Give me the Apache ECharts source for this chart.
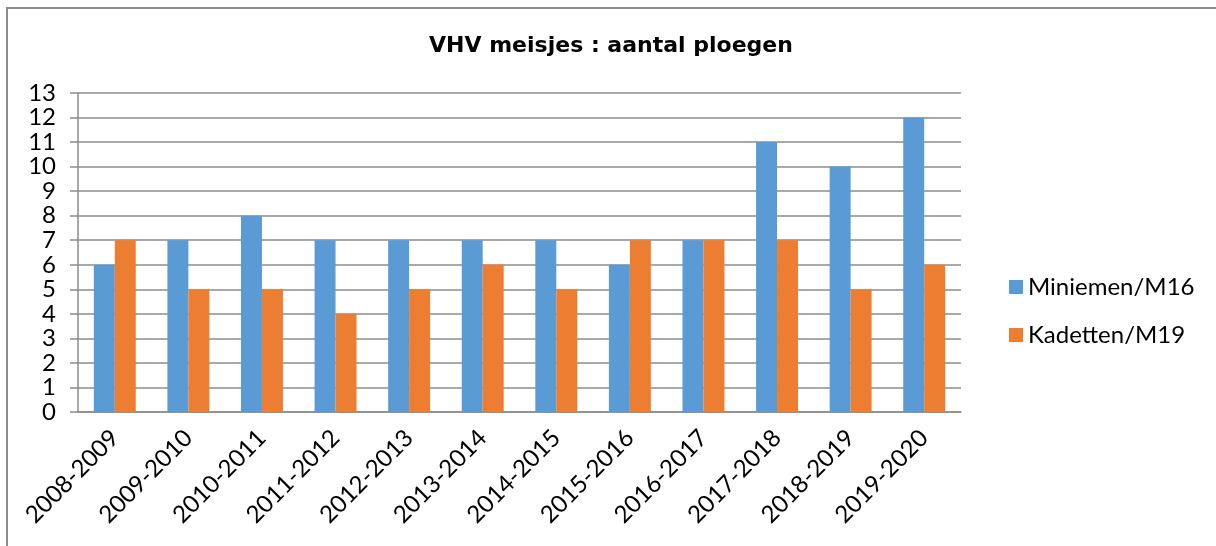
<!DOCTYPE html>
<html>
<head>
<meta charset="utf-8">
<script src="https://cdn.jsdelivr.net/npm/echarts@6/dist/echarts.min.js"></script>
<style>
  html, body { margin: 0; padding: 0; background: #fff; }
  #frame { position: absolute; left: 6px; top: 7px; width: 1210px; height: 539px;
           border-left: 2px solid #8c8c8c; border-top: 2px solid #8c8c8c; }
  #chart { position: absolute; left: 0; top: 0; width: 1216px; height: 546px; }
</style>
</head>
<body>
<div id="frame"></div>
<div id="chart"></div>
<script>
const seasons = ['2008-2009', '2009-2010', '2010-2011', '2011-2012', '2012-2013', '2013-2014',
  '2014-2015', '2015-2016', '2016-2017', '2017-2018', '2018-2019', '2019-2020']
const miniemen = [6, 7, 8, 7, 7, 7, 7, 6, 7, 11, 10, 12]
const kadetten = [7, 5, 5, 4, 5, 6, 5, 7, 7, 7, 5, 6]

const labelFont = 'Lato, Carlito, sans-serif'
const lineColor = '#8c8c8c'

const chart = echarts.init(document.getElementById('chart'), null, { renderer: 'canvas' })

chart.setOption({
  animation: false,
  title: {
    text: 'VHV meisjes : aantal ploegen',
    left: 606,
    top: 30,
    textAlign: 'center',
    textStyle: { fontFamily: 'DejaVu Sans', fontWeight: 'bold', fontSize: 22, color: '#000' }
  },
  legend: {
    orient: 'vertical',
    left: 1004,
    top: 270,
    itemWidth: 14,
    itemHeight: 14,
    itemGap: 24,
    icon: 'rect',
    textStyle: { fontFamily: labelFont, fontSize: 24, color: '#000' }
  },
  grid: { left: 78, right: 255, top: 93, bottom: 134 },
  xAxis: {
    type: 'category',
    data: seasons,
    axisLine: { lineStyle: { color: lineColor, width: 1.5 } },
    axisTick: { length: 8, lineStyle: { color: lineColor, width: 1.5 } },
    axisLabel: { rotate: 45, fontFamily: labelFont, fontSize: 24, color: '#000', margin: 22 }
  },
  yAxis: {
    type: 'value',
    min: 0,
    max: 13,
    interval: 1,
    axisLine: { show: true, lineStyle: { color: lineColor, width: 1.5 } },
    axisTick: { show: true, length: 8, lineStyle: { color: lineColor, width: 1.5 } },
    splitLine: { lineStyle: { color: lineColor, width: 1.5 } },
    axisLabel: { fontFamily: labelFont, fontSize: 24, color: '#000', margin: 22 }
  },
  series: [
    {
      name: 'Miniemen/M16',
      type: 'bar',
      data: miniemen,
      barGap: '0%',
      barCategoryGap: '43%',
      itemStyle: { color: '#5b9bd5' }
    },
    {
      name: 'Kadetten/M19',
      type: 'bar',
      data: kadetten,
      itemStyle: { color: '#ed7d31' }
    }
  ]
})

window.addEventListener('resize', () => {
  chart.resize()
})
</script>
</body>
</html>
